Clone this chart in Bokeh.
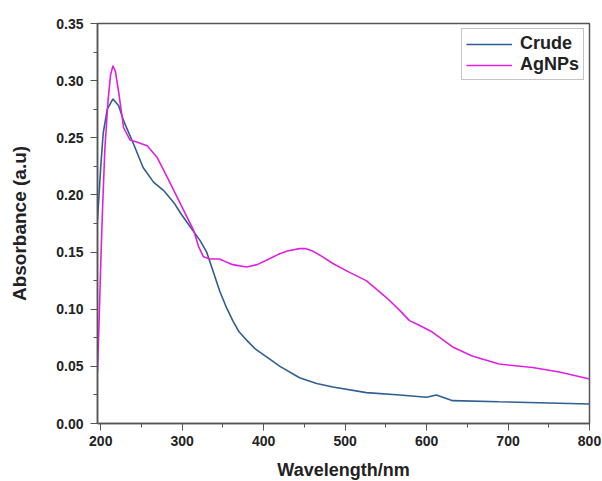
from bokeh.plotting import figure
from bokeh.models import Range1d, FixedTicker, Legend, LegendItem, PrintfTickFormatter
from bokeh.embed import file_html
from bokeh.resources import INLINE

crude_wl = [196, 200, 203, 208, 215, 222, 228, 240, 252, 265, 277, 290, 298, 310, 322, 330, 338, 346, 354, 362, 370, 379, 390, 404, 420, 444, 465, 485, 526, 567, 600, 612, 632, 689, 750, 800]
crude_abs = [0.178, 0.225, 0.254, 0.275, 0.284, 0.278, 0.265, 0.245, 0.224, 0.211, 0.204, 0.193, 0.184, 0.172, 0.160, 0.150, 0.133, 0.116, 0.102, 0.090, 0.080, 0.073, 0.065, 0.058, 0.050, 0.040, 0.035, 0.032, 0.027, 0.025, 0.023, 0.025, 0.020, 0.019, 0.018, 0.017]

agnp_wl = [196, 198, 200, 202, 205, 209, 212, 215, 218, 222, 228, 236, 245, 257, 269, 282, 298, 314, 320, 326, 334, 346, 355, 362, 379, 392, 404, 418, 429, 444, 452, 460, 472, 485, 506, 526, 551, 567, 579, 591, 607, 632, 656, 689, 730, 763, 800]
agnp_abs = [0.045, 0.09, 0.14, 0.184, 0.24, 0.283, 0.305, 0.313, 0.308, 0.290, 0.259, 0.248, 0.246, 0.243, 0.233, 0.215, 0.192, 0.169, 0.155, 0.146, 0.144, 0.144, 0.141, 0.139, 0.137, 0.139, 0.143, 0.148, 0.151, 0.153, 0.153, 0.151, 0.146, 0.140, 0.132, 0.125, 0.110, 0.099, 0.090, 0.086, 0.080, 0.067, 0.059, 0.052, 0.049, 0.045, 0.039]

x_ticks = [200, 300, 400, 500, 600, 700, 800]
x_minor = [250, 350, 450, 550, 650, 750]
y_ticks = [0.0, 0.05, 0.10, 0.15, 0.20, 0.25, 0.30, 0.35]
y_minor = [0.025, 0.075, 0.125, 0.175, 0.225, 0.275, 0.325]

FONT = "Liberation Sans"

p = figure(frame_width=492, frame_height=400, min_border_left=97, min_border_right=12,
           min_border_top=23, min_border_bottom=57,
           x_range=Range1d(196, 800), y_range=Range1d(0, 0.35),
           output_backend="svg", toolbar_location=None)
p.xgrid.visible = False
p.ygrid.visible = False
p.outline_line_color = "#555555"
p.outline_line_width = 1.5

r1 = p.line(crude_wl, crude_abs, line_color="#2f5f8f", line_width=1.6)
r2 = p.line(agnp_wl, agnp_abs, line_color="#e020e0", line_width=1.6)

p.xaxis.ticker = FixedTicker(ticks=x_ticks, minor_ticks=x_minor)
p.yaxis.ticker = FixedTicker(ticks=y_ticks, minor_ticks=y_minor)
p.yaxis.formatter = PrintfTickFormatter(format="%.2f")

for ax in (p.xaxis[0], p.yaxis[0]):
    ax.axis_line_color = "#555555"
    ax.axis_line_width = 1.5
    ax.major_tick_line_color = "#555555"
    ax.minor_tick_line_color = "#555555"
    ax.major_tick_in = 0
    ax.major_tick_out = 7
    ax.minor_tick_in = 0
    ax.minor_tick_out = 4
    ax.major_label_text_font = FONT
    ax.major_label_text_font_style = "bold"
    ax.major_label_text_font_size = "14px"
    ax.major_label_text_color = "#222222"
    ax.axis_label_text_font = FONT
    ax.axis_label_text_font_style = "bold"
    ax.axis_label_text_color = "#222222"

p.xaxis.axis_label_text_font_size = "18px"
p.yaxis.axis_label_text_font_size = "19px"
p.xaxis.major_label_standoff = 5
p.yaxis.major_label_standoff = 7
p.xaxis.axis_label = "Wavelength/nm"
p.yaxis.axis_label = "Absorbance (a.u)"
p.xaxis.axis_label_standoff = 11
p.yaxis.axis_label_standoff = 23

legend = Legend(items=[LegendItem(label="Crude", renderers=[r1]),
                       LegendItem(label="AgNPs", renderers=[r2])],
                location="top_right")
legend.label_text_font = FONT
legend.label_text_font_style = "bold"
legend.label_text_font_size = "18px"
legend.label_text_color = "#222222"
legend.glyph_width = 46
legend.glyph_height = 16
legend.label_height = 16
legend.label_standoff = 8
legend.spacing = 0
legend.padding = 4
legend.margin = 5
legend.border_line_color = "#888888"
legend.border_line_width = 1
legend.background_fill_alpha = 1
p.add_layout(legend)

open("out.html", "w").write(file_html(p, INLINE))
